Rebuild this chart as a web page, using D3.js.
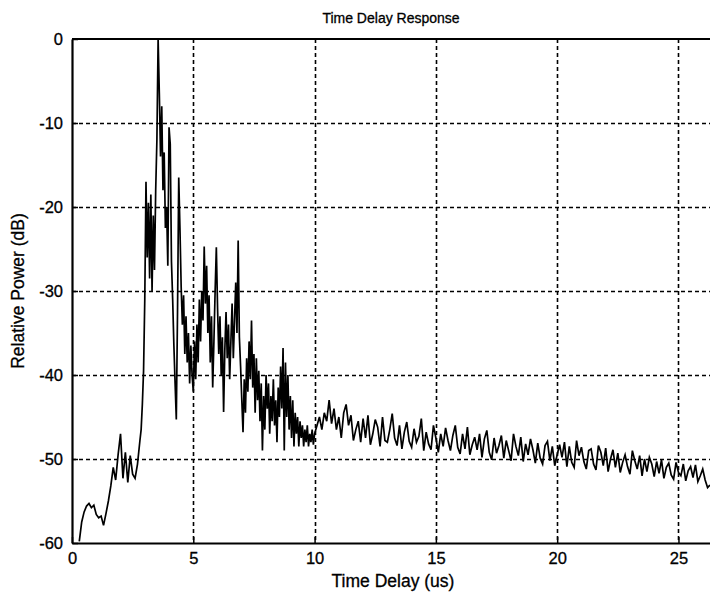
<!DOCTYPE html>
<html>
<head>
<meta charset="utf-8">
<script src="https://cdn.jsdelivr.net/npm/d3@7"></script>
<style>
  body { margin: 0; background: #fff; }
  text { font-family: "Liberation Sans", Arial, sans-serif; fill: #000; stroke: #000; stroke-width: 0.3px; }
</style>
</head>
<body>
<script>
//tick labels
var xTicks = [0, 5, 10, 15, 20, 25];
var yTicks = [0, -10, -20, -30, -40, -50, -60];

// three pieces of the trace, each with its own sample start + step (us)
var startA = 0.3, stepA = 0.1;
var powerA = [-59.8, -57.5, -56.3, -55.6, -55.3, -55.8, -55.5, -56.6, -57.0, -56.8,
  -57.9, -56.5, -55.0, -53.2, -51.0, -52.5, -49.5, -47.0, -52.3, -49.2,
  -52.8, -49.6, -51.8, -52.3, -50.6, -47.8];

var startB = 2.85, stepB = 0.05;
var powerB = [-46.5, -43.5, -39.5, -31.0, -17.0, -26.0, -19.5, -28.5, -18.5, -30.0,
  -21.0, -27.5, -18.0, -12.0, 0.0, -6.5, -14.0, -8.0, -18.0, -13.5,
  -22.5, -20.0, -27.0, -10.5, -12.5, -26.5, -31.0, -36.5, -41.0, -45.3,
  -32.5, -16.5, -22.5, -29.5, -34.0, -30.5, -37.5, -33.0, -38.5, -35.0,
  -41.0, -36.5, -40.0, -42.0, -36.0, -40.5, -34.0, -38.5, -31.0, -36.0,
  -30.0, -33.5, -24.7, -31.5, -27.0, -35.0, -30.5, -38.5, -33.0, -41.5,
  -36.0, -30.0, -24.8, -32.0, -37.5, -33.0, -40.0, -35.5, -44.4, -37.0,
  -32.5, -38.0, -34.0, -40.5, -36.0, -31.5, -38.0, -33.5, -29.0, -35.0,
  -24.0, -35.5, -39.0, -43.0, -46.8, -40.5, -44.5, -38.0, -42.0, -36.0,
  -40.5, -33.5, -41.5, -37.5, -44.5, -38.0, -43.0, -39.5, -45.5, -41.0,
  -49.0, -42.5, -46.5, -40.0, -44.0, -41.0, -47.0, -42.5, -45.5, -40.5,
  -46.0, -43.0, -48.0, -41.5, -45.0, -39.0, -44.0, -36.8, -49.0, -38.5,
  -45.0, -40.0, -46.5, -42.5, -47.5, -43.0, -48.5, -44.5, -47.0, -45.0,
  -48.5, -45.5, -47.5, -46.0, -48.5, -46.5, -48.0, -46.0, -48.5, -47.0,
  -48.0, -46.5, -48.3, -47.0];

var startC = 10.1, stepC = 0.1;
var powerC = [-46.0, -45.0, -46.5, -44.5, -45.5, -43.0, -45.8, -44.0, -46.5, -45.0,
  -47.5, -44.5, -43.5, -46.0, -44.8, -47.8, -46.5, -45.5, -48.0, -45.2,
  -47.5, -44.8, -48.3, -47.0, -45.3, -46.2, -48.5, -45.0, -47.8, -48.0,
  -46.5, -44.6, -47.5, -48.4, -46.0, -48.8, -46.8, -45.6, -47.9, -48.6,
  -46.4, -48.0, -47.3, -45.2, -49.0, -46.8, -48.2, -48.9, -46.0, -47.5,
  -49.2, -47.0, -48.5, -46.3, -47.8, -49.0, -47.2, -46.0, -48.6, -49.4,
  -47.0, -48.8, -46.2, -49.5, -48.3, -47.4, -48.9, -47.0, -49.8, -47.6,
  -46.6, -49.2, -50.1, -47.5, -49.3, -48.4, -47.2, -49.9, -47.8, -49.0,
  -50.2, -47.0, -48.5, -49.6, -47.4, -50.3, -48.2, -49.5, -47.6, -48.9,
  -50.5, -48.1, -49.9, -50.6, -48.4, -47.9, -50.2, -48.5, -50.8, -49.5,
  -48.3, -49.8, -48.0, -50.9, -48.5, -50.4, -51.0, -47.8, -49.6, -48.6,
  -50.3, -51.2, -49.0, -48.8, -50.6, -51.3, -48.4, -49.2, -50.8, -48.7,
  -51.5, -50.0, -48.9, -51.0, -49.3, -51.6, -50.4, -49.5, -50.9, -51.8,
  -49.0, -50.2, -51.2, -49.6, -52.0, -50.0, -51.5, -49.8, -50.6, -52.1,
  -50.3, -51.7, -50.1, -52.3, -51.0, -50.5, -51.9, -52.4, -50.4, -51.6,
  -52.0, -50.6, -52.6, -51.4, -50.9, -52.2, -50.7, -52.7, -52.0, -51.2,
  -52.5, -53.4, -53.1];

var width = 710, height = 595;
// plot box (note: "top" is taken by window.top, so use a prefix)
var boxLeft = 72, boxRight = 710, boxTop = 39, boxBottom = 543;

// build the trace from the pieces
var trace = [];
function addPiece(start, step, values) {
  for (var i = 0; i < values.length; i++) {
    trace.push({t: +(start + i * step).toFixed(3), p: values[i]});
  }
}
addPiece(startA, stepA, powerA);
addPiece(startB, stepB, powerB);
addPiece(startC, stepC, powerC);

var x = d3.scaleLinear().domain([0, 26.3]).range([boxLeft, boxRight]);
var y = d3.scaleLinear().domain([-60, 0]).range([boxBottom, boxTop]);

var svg = d3.select("body").append("svg")
    .attr("width", width)
    .attr("height", height);

// dotted grid
svg.append("g").selectAll("line")
    .data(xTicks.filter(function(d){ return d > 0; }))
  .enter().append("line")
    .attr("x1", function(d){ return Math.round(x(d)) + 0.5; })
    .attr("x2", function(d){ return Math.round(x(d)) + 0.5; })
    .attr("y1", boxTop).attr("y2", boxBottom)
    .attr("stroke", "#000").attr("stroke-width", 1.6)
    .attr("stroke-dasharray", "4,3");

svg.append("g").selectAll("line")
    .data(yTicks.filter(function(d){ return d > -60 && d < 0; }))
  .enter().append("line")
    .attr("y1", function(d){ return Math.round(y(d)) + 0.5; })
    .attr("y2", function(d){ return Math.round(y(d)) + 0.5; })
    .attr("x1", boxLeft).attr("x2", boxRight)
    .attr("stroke", "#000").attr("stroke-width", 1.6)
    .attr("stroke-dasharray", "4,3");

// the trace, clipped to the axes box
svg.append("clipPath").attr("id", "box")
  .append("rect")
    .attr("x", boxLeft).attr("y", boxTop - 1)
    .attr("width", boxRight - boxLeft).attr("height", boxBottom - boxTop + 1);

var line = d3.line()
    .x(function(d){ return x(d.t); })
    .y(function(d){ return y(d.p); });

svg.append("path")
    .datum(trace)
    .attr("clip-path", "url(#box)")
    .attr("d", line)
    .attr("fill", "none")
    .attr("stroke", "#000")
    .attr("stroke-width", 1.7);

// axes (matlab style, ticks inside, plain hyphen minus)
var plain = function(d){ return String(d); };
var xAxis = d3.axisBottom(x).tickValues(xTicks).tickFormat(plain).tickSizeInner(-6).tickSizeOuter(0).tickPadding(9);
var yAxis = d3.axisLeft(y).tickValues(yTicks).tickFormat(plain).tickSizeInner(-6).tickSizeOuter(0).tickPadding(9);

var gx = svg.append("g")
    .attr("transform", "translate(0," + boxBottom + ")")
    .call(xAxis);
var gy = svg.append("g")
    .attr("transform", "translate(" + boxLeft + ",0)")
    .call(yAxis);

[gx, gy].forEach(function(g){
  g.select(".domain").attr("stroke", "#000").attr("stroke-width", 2.2);
  g.selectAll(".tick line").attr("stroke", "#000").attr("stroke-width", 1.5);
  g.selectAll(".tick text").attr("font-size", 16.5).attr("font-family", "Liberation Sans, Arial, sans-serif");
});

// top border
svg.append("line")
    .attr("x1", boxLeft).attr("x2", boxRight)
    .attr("y1", boxTop).attr("y2", boxTop)
    .attr("stroke", "#000").attr("stroke-width", 2);

// titles
svg.append("text")
    .attr("x", (boxLeft + boxRight) / 2).attr("y", 23)
    .attr("text-anchor", "middle")
    .attr("font-size", 14)
    .text("Time Delay Response");

svg.append("text")
    .attr("x", (boxLeft + boxRight) / 2 + 2).attr("y", 587)
    .attr("text-anchor", "middle")
    .attr("font-size", 17.5)
    .text("Time Delay (us)");

svg.append("text")
    .attr("transform", "translate(24," + ((boxTop + boxBottom) / 2) + ") rotate(-90)")
    .attr("text-anchor", "middle")
    .attr("font-size", 17.5)
    .text("Relative Power (dB)");
</script>
</body>
</html>
